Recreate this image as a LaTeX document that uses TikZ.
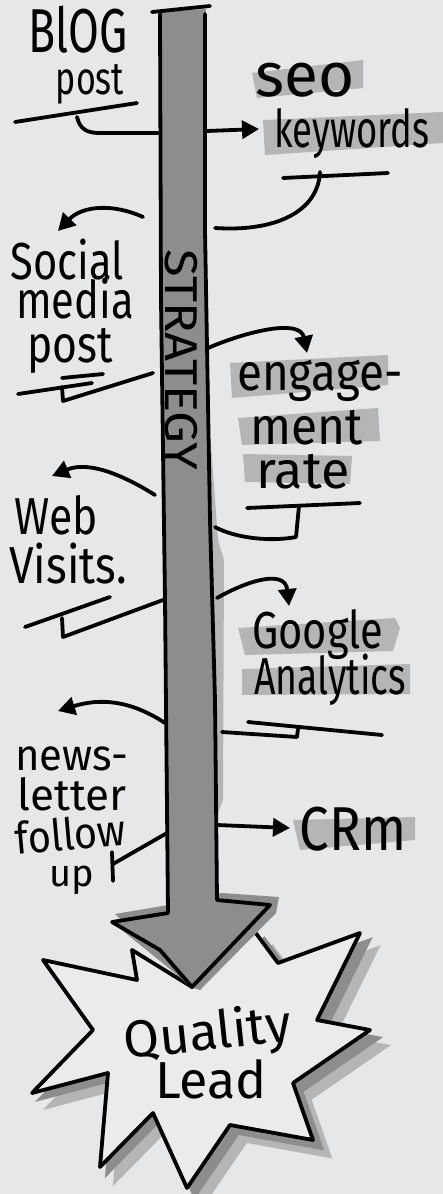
\documentclass[tikz,border=0pt]{standalone}
\usepackage{fontspec}
\setmainfont{Fira Sans}
\usetikzlibrary{arrows.meta}
\definecolor{bg}{HTML}{E6E7E9}
\definecolor{shaftgray}{HTML}{8D8D8D}
\definecolor{hl}{HTML}{B5B5B5}
\definecolor{starfill}{HTML}{EBEBEC}
\newcommand{\hw}[2]{\scalebox{#1}[1]{#2}}
\begin{document}
\begin{tikzpicture}[x=1pt,y=-1pt,
  ink/.style={line width=3.8pt,line cap=round,line join=round,draw=black},
  tipped/.style={ink,-{Triangle[length=17pt,width=18pt]}},
  lbl/.style={font=\fontsize{52}{52}\selectfont,inner sep=0pt,anchor=base},
  big/.style={font=\fontsize{62}{62}\selectfont,inner sep=0pt,anchor=base},
  small/.style={font=\fontsize{44}{44}\selectfont,inner sep=0pt,anchor=base},
  hlbox/.style={fill=hl}]
\fill[bg] (0,0) rectangle (443,1194);
\useasboundingbox (0,0) rectangle (443,1194);

% highlight bands
\fill[hlbox] (252,73) -- (363,60) -- (363,88) -- (257,98) -- cycle;
\fill[hlbox] (263,120) -- (443,112) -- (443,143) -- (265,155) -- cycle;
\fill[hlbox] (230,363) -- (388,355) -- (388,385) -- (232,398) -- cycle;
\fill[hlbox] (238,418) -- (378,408) -- (380,441) -- (242,445) -- cycle;
\fill[hlbox] (243,454) -- (352,456) -- (350,484) -- (245,482) -- cycle;
\fill[hlbox] (238,628) -- (395,618) -- (400,628) -- (393,651) -- (245,655) -- cycle;
\fill[hlbox] (242,669) -- (410,664) -- (410,694) -- (242,695) -- cycle;
\fill[hlbox] (293,820) -- (415,817) -- (415,840) -- (300,850) -- cycle;

% light shadow beside the shaft
\fill[hl] (204,445) -- (211,445) -- (218,540) -- (224,560) -- (223,800) -- (216,818) -- (212,560) -- cycle;

% star shadows and star
\foreach \s/\c in {16/hl,8/shaftgray}{
  \fill[\c, shift={(\s,\s)}, scale around={1.03:(205,1060)}]
   (43,960) -- (137,980) -- (132,950) -- (192,987) -- (255,932) -- (278,963) -- (360,933) -- (317,1020) -- (370,1030) -- (293,1083) -- (313,1140) -- (230,1125) -- (187,1188) -- (153,1113) -- (100,1167) -- (108,1073) -- (32,1093) -- (93,1030) -- cycle;
}
\filldraw[ink, fill=starfill]
   (43,960) -- (137,980) -- (132,950) -- (192,987) -- (255,932) -- (278,963) -- (360,933) -- (317,1020) -- (370,1030) -- (293,1083) -- (313,1140) -- (230,1125) -- (187,1188) -- (153,1113) -- (100,1167) -- (108,1073) -- (32,1093) -- (93,1030) -- cycle;

% arrowhead shadow
\fill[shaftgray] (115,914) -- (168,905) -- (222,893) -- (279,897) -- (276,913) -- (200,990) -- (190,987) -- cycle;
% shaft fill
\fill[shaftgray] (161,12) -- (206,9) -- (204,230) -- (209,520) -- (214,700) -- (216,900) -- (270,905) -- (192,987) -- (112,922) -- (168,913) -- (166,600) -- (161,300) -- cycle;
% shaft outline
\draw[ink] (152,12) -- (210,6);
\draw[ink] (160,14) -- (161,300) -- (165,600) -- (168,913) -- (112,922) -- (160,950) -- (192,987) -- (270,905) -- (217,900) -- (215,700) -- (210,520) -- (205,230) -- (205,14);

\node[font=\fontsize{46}{46}\selectfont, rotate=-90, inner sep=0pt] (strat) at (181,360) {\hw{1.1}{STRATEGY}};

% labels
\node[big] (blogA) at (78,52) {\hw{0.72}{BlOG}};
\node[font=\fontsize{46}{46}\selectfont,inner sep=0pt,anchor=base] (blogB) at (90,94) {\hw{0.74}{post}};
\node[big] (seoA) at (305,96) {seo};
\node[lbl] (seoB) at (352,147) {\hw{0.7}{keywords}};
\node[lbl] (socA) at (67,279) {\hw{0.8}{Social}};
\node[lbl] (socB) at (75,318) {\hw{0.8}{media}};
\node[lbl] (socC) at (70,362) {\hw{0.82}{post}};
\node[lbl] (engA) at (320,390) {\hw{0.88}{engage-}};
\node[lbl] (engB) at (307,444) {\hw{0.92}{ment}};
\node[lbl] (engC) at (303,488) {rate};
\node[lbl] (webA) at (56,534) {\hw{0.82}{Web}};
\node[lbl] (webB) at (68,583) {\hw{0.85}{Visits.}};
\node[lbl] (gooA) at (318,648) {\hw{0.8}{Google}};
\node[lbl] (gooB) at (330,694) {\hw{0.72}{Analytics}};
\node[small] (newsA) at (72,770) {\hw{0.95}{news-}};
\node[small] (newsB) at (72,810) {letter};
\node[small, rotate=5] (newsC) at (72,850) {\hw{0.9}{follow}};
\node[font=\fontsize{38}{38}\selectfont,inner sep=0pt,anchor=base] (newsD) at (72,886) {up};
\node[big] (crm) at (353,850) {\hw{0.85}{CRm}};
\node[lbl, rotate=6] (qualA) at (209,1050) {Quality};
\node[lbl] (qualB) at (211,1098) {Lead};

% connector points
\coordinate (bU1) at (15,122); \coordinate (bU2) at (137,103);
\coordinate (bK) at (77,117); \coordinate (sh1) at (158,133);
\coordinate (sh2) at (207,131); \coordinate (seoT) at (259,129);
\coordinate (sU1) at (283,178); \coordinate (sU2) at (388,173);
\coordinate (sK) at (320,172); \coordinate (sh3) at (215,228);
\coordinate (sh4) at (143,217); \coordinate (socT) at (58,231);
\coordinate (pU1) at (62,378); \coordinate (pU2) at (103,374);
\coordinate (pL1) at (18,394); \coordinate (pL2) at (92,383);
\coordinate (pK) at (62,387); \coordinate (sh5) at (153,373);
\coordinate (sh6) at (208,348); \coordinate (engT) at (307,353);
\coordinate (eU1) at (247,508); \coordinate (eU2) at (360,503);
\coordinate (eK) at (299,506); \coordinate (sh7) at (215,527);
\coordinate (sh8) at (155,495); \coordinate (webT) at (52,476);
\coordinate (wL1) at (25,627); \coordinate (wL2) at (110,597);
\coordinate (wK) at (62,618); \coordinate (sh9) at (163,600);
\coordinate (sh10) at (217,598); \coordinate (gooT) at (289,606);
\coordinate (gU1) at (248,722); \coordinate (gU2) at (382,735);
\coordinate (sh11) at (222,732); \coordinate (gK) at (298,729);
\coordinate (sh12) at (165,723); \coordinate (newsT) at (58,711);
\coordinate (fT1) at (112,852); \coordinate (fT2) at (113,881);
\coordinate (fK) at (113,864); \coordinate (sh13) at (167,833);
\coordinate (sh14) at (217,825); \coordinate (crmT) at (290,828);

% connectors
\draw[ink] (bU1) -- (bU2);
\draw[ink] (bK) .. controls (80,130) and (88,133) .. (100,133) -- (sh1);
\draw[tipped] (sh2) -- (seoT);
\draw[ink] (sU1) -- (sU2);
\draw[ink] (sK) .. controls (318,212) and (275,232) .. (sh3);
\draw[tipped] (sh4) .. controls (112,203) and (82,206) .. (socT);
\draw[ink] (pU1) -- (pU2);
\draw[ink] (pL1) -- (pL2);
\draw[ink] (pK) -- (63,401) -- (sh5);
\draw[tipped] (sh6) .. controls (245,332) and (300,318) .. (engT);
\draw[ink] (eU1) -- (eU2);
\draw[ink] (eK) -- (296,537) .. controls (270,542) and (235,538) .. (sh7);
\draw[tipped] (sh8) .. controls (115,470) and (85,462) .. (webT);
\draw[ink] (wL1) -- (wL2);
\draw[ink] (wK) -- (63,637) -- (sh9);
\draw[tipped] (sh10) .. controls (245,582) and (285,568) .. (gooT);
\draw[ink] (gU1) -- (gU2);
\draw[ink] (sh11) -- (297,737) -- (gK);
\draw[tipped] (sh12) .. controls (130,700) and (100,698) .. (newsT);
\draw[ink] (fT1) -- (fT2);
\draw[ink] (fK) -- (sh13);
\draw[tipped] (sh14) -- (crmT);
\end{tikzpicture}
\end{document}
